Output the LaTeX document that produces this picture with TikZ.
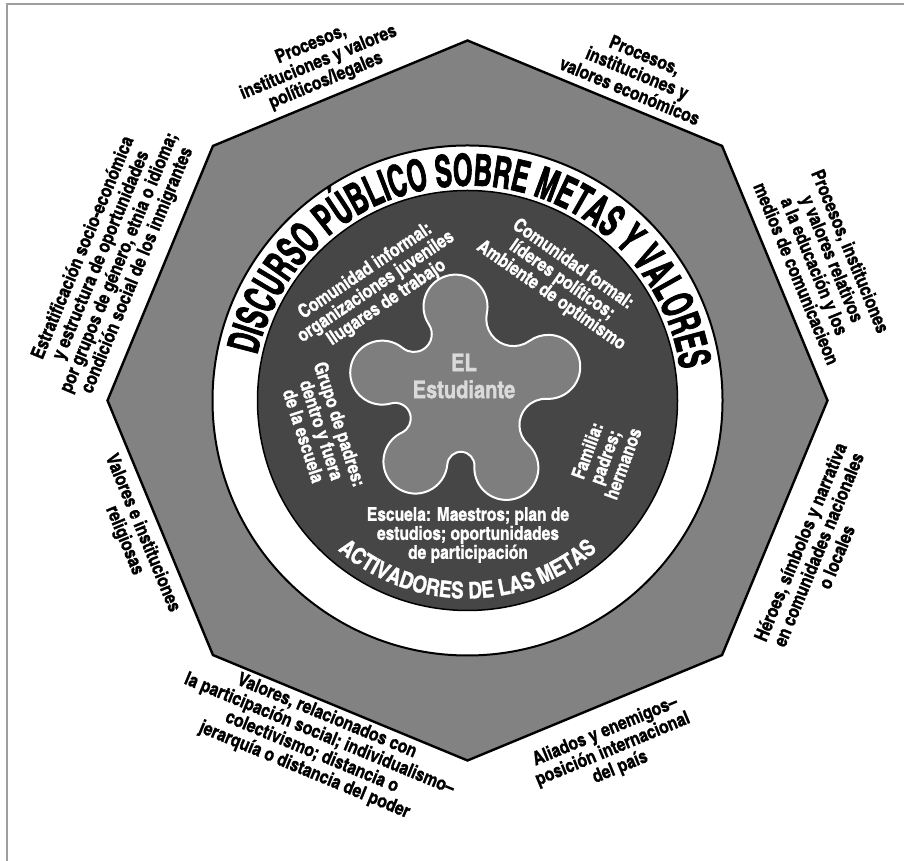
\documentclass[tikz,border=0pt]{standalone}
\usepackage{fontspec}
\usetikzlibrary{calc,decorations.text}
\setmainfont{texgyreheroscn-bold}[Extension=.otf,FakeBold=1.2]
\newfontfamily\cnfont{texgyreheroscn-bold}[Extension=.otf,FakeBold=1.2]
\newfontfamily\cnnarrow{texgyreheroscn-bold}[Extension=.otf,FakeStretch=0.70,FakeBold=1.6]

\definecolor{octfill}{HTML}{828282}
\definecolor{discfill}{HTML}{464646}
\definecolor{petalfill}{HTML}{7E7E7E}
\definecolor{framegray}{HTML}{9E9E9E}
\definecolor{namegray}{HTML}{DADADA}

\tikzset{
  outerlabel/.style={font=\fontsize{19}{19.5}\selectfont, align=center, text=black, inner sep=0pt},
  innerlabel/.style={font=\fontsize{19}{19}\selectfont, align=center, text=white, inner sep=0pt},
  octagon/.style={fill=octfill, draw=black, line width=2.4pt, line join=miter},
  ring/.style={fill=white, draw=black, line width=2pt},
  disc/.style={fill=discfill, draw=black, line width=1.5pt},
  petals/.style={fill=petalfill, draw=white, line width=2pt},
}

\begin{document}
\begin{tikzpicture}[x=1pt,y=1pt]
\useasboundingbox (0,0) rectangle (904,861);
\fill[white] (0,0) rectangle (904,861);

% frame
\draw[framegray, line width=2pt] (7,0) -- (7,856.5) -- (904,856.5);

% centre of the rings and of the octagon
\coordinate (O) at (467.5,460.5);

% octagon
\draw[octagon] ($(O)+(90:360)$) -- ($(O)+(45:360)$) -- ($(O)+(0:360)$)
  -- ($(O)+(-45:360)$) -- ($(O)+(-90:360)$) -- ($(O)+(-135:360)$)
  -- ($(O)+(180:360)$) -- ($(O)+(135:360)$) -- cycle;

% white ring and dark disc
\draw[ring] (O) circle[radius=255];
\draw[disc] (O) circle[radius=210];

% five-lobed student shape: round lobes (radius 32, 86 from the centre)
% joined by concave valley arcs tangent to both neighbours
\coordinate (F) at (466,469);
\draw[petals]
  ($(F)+(-126:86)+(-244.78:32)$)
  arc[start angle=-244.78, end angle=-4.82,   radius=32]
  arc[start angle=-184.82, end angle=-363.18, radius=13.58]
  arc[start angle=-183.18, end angle=47.58,   radius=32]
  arc[start angle=-132.42, end angle=-272.58, radius=26.18]
  arc[start angle=-92.58,  end angle=125.84,  radius=32]
  arc[start angle=-54.16,  end angle=-191.84, radius=27.28]
  arc[start angle=-11.84,  end angle=213.43,  radius=32]
  arc[start angle=33.43,   end angle=-129.43, radius=17.88]
  arc[start angle=50.57,   end angle=285.78,  radius=32]
  arc[start angle=105.78,  end angle=-64.78,  radius=15.63]
  -- cycle;

% curved titles
\path[decorate, decoration={text along path,
    text={|\cnnarrow\fontsize{44}{44}\selectfont|DISCURSO PÚBLICO SOBRE METAS Y VALORES},
    text align=center}]
  ($(O)+(183:215)$) arc[start angle=183, end angle=-7, radius=215];
\path[decorate, decoration={text along path, text color=white,
    text={|\cnfont\fontsize{23}{23}\selectfont|ACTIVADORES DE LAS METAS},
    text align=center}]
  ($(O)+(215:198)$) arc[start angle=215, end angle=325, radius=198];

% centre
\node[font=\fontsize{24.5}{27}\selectfont, text=namegray, align=center, inner sep=0pt]
  (student) at (464,485) {EL\\Estudiante};

% goal activators inside the disc
\node[innerlabel, rotate=34]  (cinf) at (376,574) {Comunidad informal:\\organizaciones juveniles\\llugares de trabajo};
\node[innerlabel, rotate=-35] (cfor) at (562,581) {Comunidad formal:\\líderes políticos;\\Ambiente de optimismo};
\node[innerlabel, rotate=-72] (gpad) at (322,431) {Grupo de padres:\\dentro y fuera\\de la escuela};
\node[innerlabel, rotate=70]  (fam)  at (605,404) {Familia:\\padres;\\hermanos};
\node[innerlabel]             (esc)  at (468,326) {Escuela: Maestros; plan de\\estudios; oportunidades\\de participación};

% labels along the octagon sides
\node[outerlabel, rotate=22.5]  (polit) at ($(O)+(113.8:369)$) {Procesos,\\instituciones y valores\\políticos/legales};
\node[outerlabel, rotate=-22.5] (econ)  at ($(O)+(62.6:369)$)  {Procesos,\\instituciones y\\valores económicos};
\node[outerlabel, rotate=-67.5] (educ)  at ($(O)+(21.2:382)$)  {Procesos, instituciones\\y valores relativos\\a la educación y los\\medios de comunicacieon};
\node[outerlabel, rotate=67.5]  (heroe) at ($(O)+(-23:381)$)   {Héroes, símbolos y narrativa\\en comunidades nacionales\\o locales};
\node[outerlabel, rotate=22.5]  (alia)  at ($(O)+(-67.4:378)$) {Aliados y enemigos–\\posición internacional\\del país};
\node[outerlabel, rotate=-22.5] (partic) at ($(O)+(-113.9:375)$) {Valores, relacionados con\\la participación social; individualismo–\\colectivismo; distancia o\\jerarquía o distancia del poder};
\node[outerlabel, rotate=-67.5] (relig) at ($(O)+(-157.8:361)$) {Valores e instituciones\\religiosas};
\node[outerlabel, rotate=67.5]  (estrat) at ($(O)+(158.4:384)$) {Estratificación socio-económica\\y estructura de oportunidades\\por grupos de género, etnia o idioma;\\condición social de los inmigrantes};
\end{tikzpicture}
\end{document}
